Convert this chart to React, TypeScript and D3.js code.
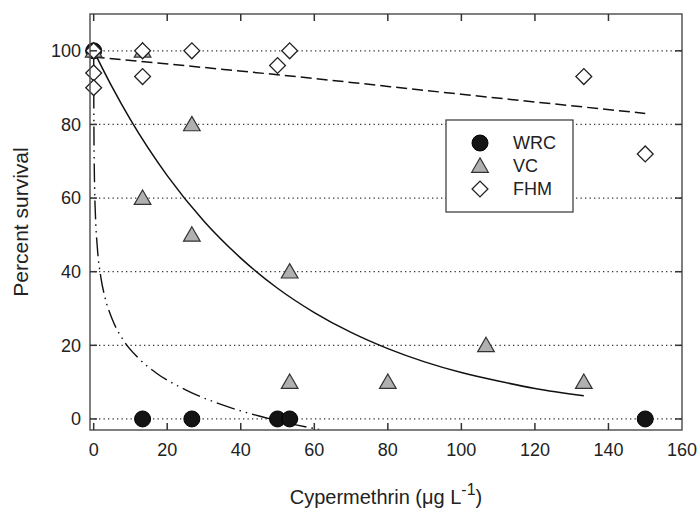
import React from 'react';
import * as d3 from 'd3';

// observed survival (%)
const wrcX = [0, 13.3, 26.7, 50, 53.3, 150];
const wrcY = [100, 0, 0, 0, 0, 0];
const vcX = [0, 13.3, 13.3, 26.7, 26.7, 53.3, 53.3, 80, 106.7, 133.3];
const vcY = [100, 100, 60, 80, 50, 40, 10, 10, 20, 10];
const fhmX = [0, 0, 0, 13.3, 13.3, 26.7, 50, 53.3, 133.3, 150];
const fhmY = [100, 94, 90, 100, 93, 100, 96, 100, 93, 72];

// fitted curves
const wrcFitX = [0.012, 0.03, 0.06, 0.12, 0.25, 0.5, 1, 2, 3, 5, 8, 12, 17, 25, 35, 45, 55, 62];
const wrcFitY = [99.6, 88.6, 80.3, 71.9, 63.1, 54.8, 46.5, 38.2, 33.3, 27.2, 21.5, 16.7, 12.5, 7.9, 3.8, 0.8, -1.6, -3.0];
const vcFitX = [0, 5, 10, 20, 30, 40, 50, 60, 70, 80, 90, 100, 110, 120, 133.3];
const vcFitY = [100, 90.2, 81.3, 66.1, 53.7, 43.7, 35.5, 28.9, 23.5, 19.1, 15.5, 12.6, 10.3, 8.3, 6.3];
const fhmFitX = [0, 50, 100, 150];
const fhmFitY = [98.3, 93.5, 88.2, 83];

const xTicks = [0, 20, 40, 60, 80, 100, 120, 140, 160];
const yTicks = [0, 20, 40, 60, 80, 100];
const legendNames = ['WRC', 'VC', 'FHM'];

const font = '"Liberation Sans", Arial, sans-serif';

const App = () => {
  const width = 699;
  const height = 512;
  const left = 90, right = 682, top = 14, bottom = 430;

  const x = d3.scaleLinear().domain([-1, 160]).range([left, right]);
  const y = d3.scaleLinear().domain([-3, 110]).range([bottom, top]);

  const zip = (xs: number[], ys: number[]) => xs.map((v, i) => [v, ys[i]] as [number, number]);

  const line = d3.line<[number, number]>()
    .x(d => x(d[0]))
    .y(d => y(d[1]))
    .curve(d3.curveMonotoneX);

  const tri = d3.symbol().type(d3.symbolTriangle).size(120)();
  const dia = d3.symbol().type(d3.symbolSquare).size(125)();

  const circle = (cx: number, cy: number, key: string) => (
    <circle key={key} cx={cx} cy={cy} r={8} fill="#141414" stroke="#000" strokeWidth={1} />
  );
  const triangle = (cx: number, cy: number, key: string) => (
    <path key={key} d={tri as string} transform={`translate(${cx},${cy + 1.5})`}
      fill="#b0b0b0" stroke="#333" strokeWidth={1.2} />
  );
  const diamond = (cx: number, cy: number, key: string) => (
    <path key={key} d={dia as string} transform={`translate(${cx},${cy}) rotate(45)`}
      fill="#fff" stroke="#222" strokeWidth={1.3} />
  );

  return (
    <svg width={width} height={height} style={{ position: 'absolute', left: 0, top: 0 }}
      fontFamily={font}>
      <defs>
        <clipPath id="plot">
          <rect x={left} y={top} width={right - left} height={bottom - top} />
        </clipPath>
      </defs>
      <rect width={width} height={height} fill="#fff" />

      {/* grid */}
      {yTicks.map(t => (
        <line key={'g' + t} x1={left} x2={right} y1={y(t)} y2={y(t)}
          stroke="#333" strokeWidth={1.2} strokeDasharray="1.3,3.2" />
      ))}

      {/* fitted curves */}
      <g clipPath="url(#plot)" fill="none" stroke="#111">
        <path d={line(zip(wrcFitX, wrcFitY)) || ''} strokeWidth={1.4}
          strokeDasharray="19,5,1.5,5,1.5,5" />
        <path d={line(zip(vcFitX, vcFitY)) || ''} strokeWidth={1.5} />
        <path d={line(zip(fhmFitX, fhmFitY)) || ''} strokeWidth={1.5} strokeDasharray="11,5" />
      </g>

      {/* points */}
      <g>
        {wrcX.map((v, i) => circle(x(v), y(wrcY[i]), 'w' + i))}
        {vcX.map((v, i) => triangle(x(v), y(vcY[i]), 'v' + i))}
        {fhmX.map((v, i) => diamond(x(v), y(fhmY[i]), 'f' + i))}
      </g>

      {/* frame and ticks */}
      <rect x={left} y={top} width={right - left} height={bottom - top} fill="none"
        stroke="#555" strokeWidth={1.5} />
      {xTicks.slice(0, -1).map(t => (
        <g key={'xt' + t} stroke="#333" strokeWidth={1.5}>
          <line x1={x(t)} x2={x(t)} y1={bottom} y2={bottom - 7} />
          <line x1={x(t)} x2={x(t)} y1={top} y2={top + 7} />
        </g>
      ))}
      {yTicks.map(t => (
        <g key={'yt' + t} stroke="#333" strokeWidth={1.5}>
          <line x1={left} x2={left + 7} y1={y(t)} y2={y(t)} />
          <line x1={right} x2={right - 7} y1={y(t)} y2={y(t)} />
        </g>
      ))}

      {/* tick labels */}
      {xTicks.map(t => (
        <text key={'xl' + t} x={x(t)} y={456} textAnchor="middle" fontSize={18} fill="#222">{t}</text>
      ))}
      {yTicks.map(t => (
        <text key={'yl' + t} x={81} y={y(t)} dy="0.35em" textAnchor="end" fontSize={18} fill="#222">{t}</text>
      ))}

      {/* axis titles */}
      <text x={(left + right) / 2} y={504} textAnchor="middle" fontSize={20} fill="#222">
        Cypermethrin (<tspan>μ</tspan>g L<tspan dy={-9} fontSize={16}>-1</tspan><tspan dy={9}>)</tspan>
      </text>
      <text transform={`translate(28,${(top + bottom) / 2}) rotate(-90)`} textAnchor="middle"
        fontSize={21} fill="#222">Percent survival</text>

      {/* legend */}
      <g>
        <rect x={446} y={120} width={127} height={92} fill="#fff" stroke="#333" strokeWidth={1.2} />
        {legendNames.map((n, i) => {
          const cy = 143 + i * 23;
          return (
            <g key={n}>
              {i === 0 && circle(480, cy, 'lc')}
              {i === 1 && triangle(480, cy, 'lt')}
              {i === 2 && diamond(480, cy, 'ld')}
              <text x={513} y={cy} dy="0.36em" fontSize={18} fill="#222">{n}</text>
            </g>
          );
        })}
      </g>
    </svg>
  );
};

export default App;
